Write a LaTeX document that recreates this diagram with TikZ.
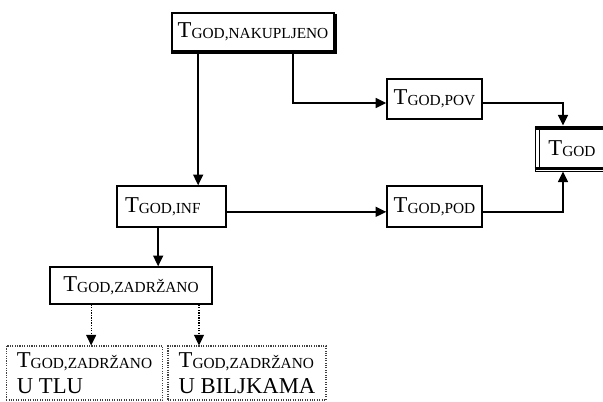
\documentclass[tikz,border=0pt]{standalone}
\usepackage{fontspec}
\setmainfont{Liberation Serif}
\usetikzlibrary{arrows.meta}
\newcommand{\Tsub}[1]{{\fontsize{17}{19.5}\selectfont T}{\fontsize{11.5}{14}\selectfont\raisebox{-1pt}{#1}}}

\begin{document}
\begin{tikzpicture}[x=0.75pt,y=-0.75pt,
    box/.style={draw=black,line width=1.1pt,inner sep=2pt},
    dbox/.style={draw=black!75,densely dotted,line width=0.8pt,align=left,inner xsep=8pt,minimum width=112pt,minimum height=40.5pt,font=\fontsize{17}{19.5}\selectfont},
    arr/.style={-{Triangle[length=8pt,width=7.5pt]},line width=1.1pt},
    darr/.style={-{Triangle[length=8pt,width=7.5pt]},densely dotted,line width=0.9pt}]

\useasboundingbox (0,0) rectangle (603,401);
\clip (0,0) rectangle (603,401);

\node[box, minimum width=121.5pt, minimum height=28.5pt] (nak) at (253,32) {\Tsub{GOD,NAKUPLJENO}};
\draw[line width=2.2pt] ([yshift=-0.3pt]nak.south west) -- ([xshift=0.3pt,yshift=-0.3pt]nak.south east) -- ([xshift=0.3pt,yshift=-1pt]nak.north east);

\node[box, minimum width=71.25pt, minimum height=30pt] (pov) at (434.5,99) {\Tsub{GOD,POV}};
\node[box, minimum width=71.25pt, minimum height=30.75pt] (pod) at (434.5,206.5) {\Tsub{GOD,POD}};
\node[box, align=left, inner xsep=6pt, text width=69.75pt, minimum height=30.75pt] (inf) at (171.5,206.5) {\Tsub{GOD,INF}};
\node[box, minimum width=121.5pt, minimum height=27.75pt] (zad) at (131,285.5) {\Tsub{GOD,ZADRŽANO}};

% T_GOD box with double rule
\node[draw=black, line width=0.7pt, minimum width=55.5pt, minimum height=33.75pt] (god) at (572,148.5) {\Tsub{GOD}};
\draw[line width=2.4pt] ([yshift=-2.5pt]god.north west) -- ([yshift=-2.5pt]god.north east);
\draw[line width=2.4pt] ([yshift=2.5pt]god.south west) -- ([yshift=2.5pt]god.south east);
\draw[line width=0.7pt] ([xshift=4pt,yshift=-2.5pt]god.north west) -- ([xshift=4pt,yshift=2.5pt]god.south west);

\node[dbox] (tlu) at (84.5,373) {\Tsub{GOD,ZADRŽANO}\\U TLU};
\node[dbox] (bil) at (247,373) {\Tsub{GOD,ZADRŽANO}\\U BILJKAMA};

\coordinate (a1) at ([xshift=20pt]inf.north);
\draw[arr] (nak.south -| a1) -- (a1);
\draw[arr] ([xshift=30pt]nak.south) |- ([yshift=-3pt]pov.west);
\draw[arr] ([yshift=-3pt]pov.east) -| ([xshift=-6.75pt]god.north);
\draw[arr] ([yshift=-4pt]inf.east) -- ([yshift=-4pt]pod.west);
\draw[arr] ([yshift=-4pt]pod.east) -| ([xshift=-6.75pt]god.south);

\coordinate (a2) at ([xshift=-10pt]inf.south);
\draw[arr] (a2) -- (a2 |- zad.north);
\coordinate (a3) at ([xshift=5pt]tlu.north);
\draw[darr] (zad.south -| a3) -- (a3);
\coordinate (a4) at ([xshift=-36pt]bil.north);
\draw[darr] (zad.south -| a4) -- (a4);

\end{tikzpicture}
\end{document}
